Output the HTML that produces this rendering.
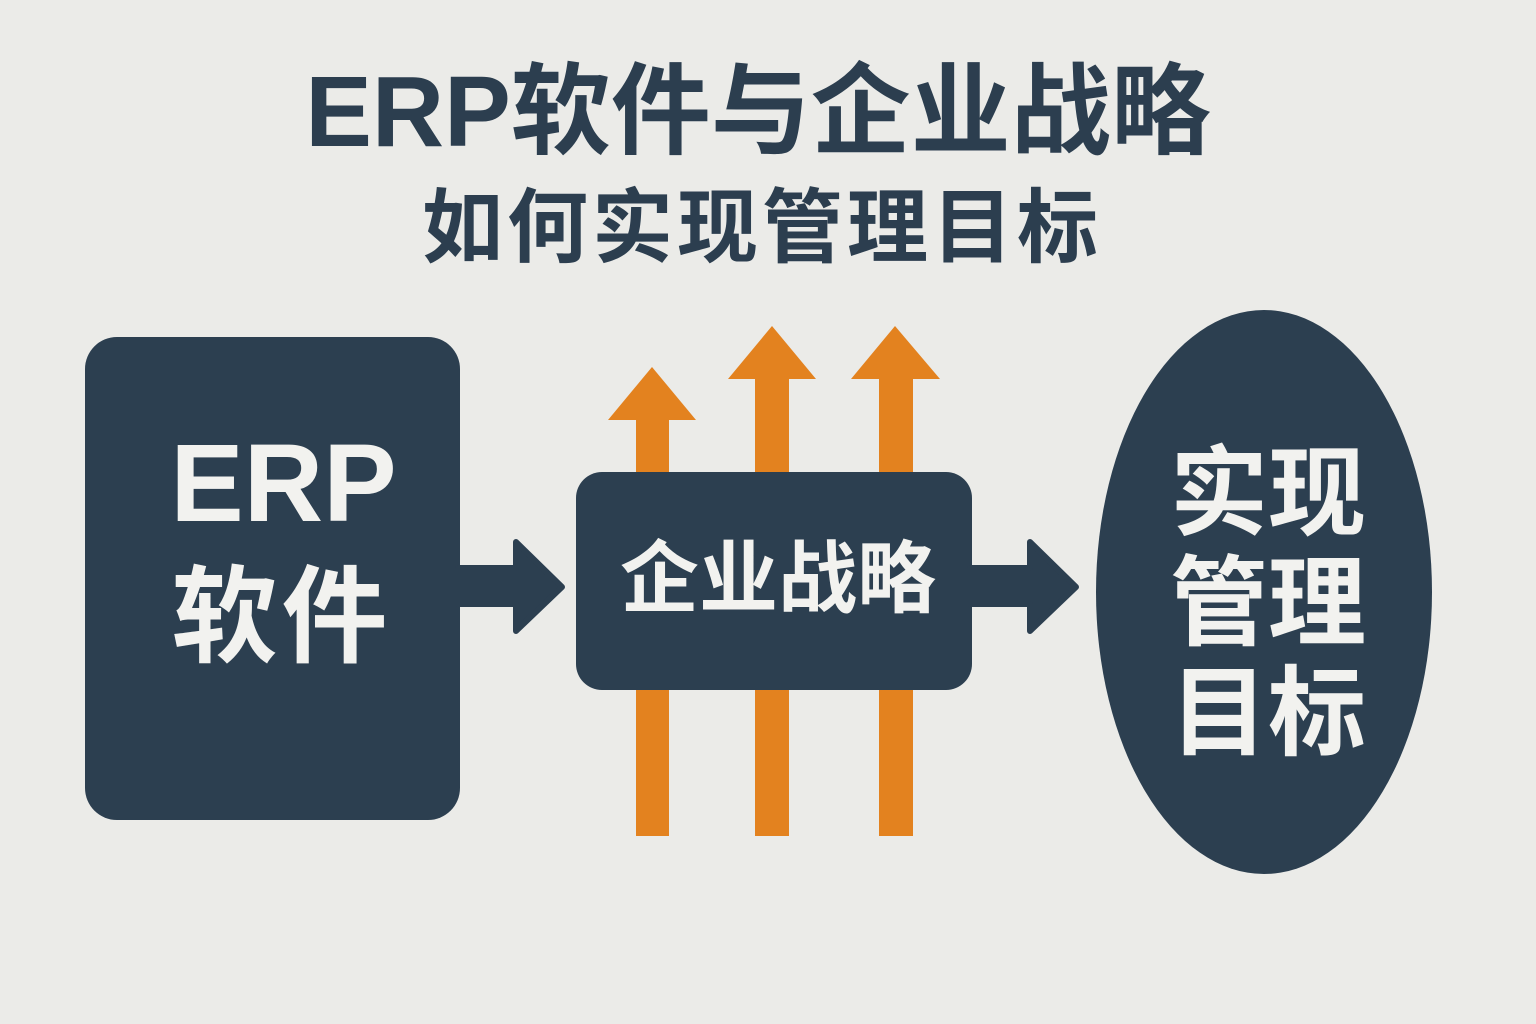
<!DOCTYPE html>
<html><head><meta charset="utf-8"><style>
html,body{margin:0;padding:0}
body{width:1536px;height:1024px;background:#ebebe8;position:relative;overflow:hidden;font-family:"Liberation Sans","Noto Sans CJK SC",sans-serif;font-weight:bold}
.t{position:absolute;left:0;width:1536px;text-align:center;color:#2c3e4f;white-space:nowrap}
.w{position:absolute;color:#f2f2ef;white-space:nowrap;text-align:center}
</style></head><body>
<div class="t" style="top:52px;font-size:100px;line-height:120px;left:-10px">ERP软件与企业战略</div>
<div class="t" style="top:183px;font-size:81px;line-height:92px;letter-spacing:4px;left:-6px">如何实现管理目标</div>
<svg width="1536" height="1024" style="position:absolute;left:0;top:0">
<g fill="#e3821f">
<rect x="636" y="418" width="33" height="418"/><polygon points="608,420 652,367 696,420"/>
<rect x="755" y="377" width="34" height="459"/><polygon points="728,379 772,326 816,379"/>
<rect x="879" y="377" width="34" height="459"/><polygon points="851,379 895,326 940,379"/>
</g>
<g fill="#2c3f50" stroke="#2c3f50" stroke-linejoin="round" stroke-width="6">
<rect x="85" y="337" width="375" height="483" rx="32" stroke="none"/>
<rect x="576" y="472" width="396" height="218" rx="26" stroke="none"/>
<ellipse cx="1264" cy="592" rx="168" ry="282" stroke="none"/>
<polygon points="458,568 516,568 516,542 562,587 516,631 516,604 458,604"/>
<polygon points="970,568 1030,568 1030,542 1076,587 1030,631 1030,604 970,604"/>
</g>
</svg>
<div class="w" style="left:96px;width:375px;top:424px;font-size:110px;line-height:120px">ERP</div>
<div class="w" style="left:94px;width:375px;top:558px;font-size:106px;line-height:120px;letter-spacing:4px">软件</div>
<div class="w" style="left:580px;width:396px;top:534px;font-size:79px;line-height:90px">企业战略</div>
<div class="w" style="left:1118px;width:300px;top:438px;font-size:98px;line-height:110px">实现<br>管理<br>目标</div>
</body></html>
